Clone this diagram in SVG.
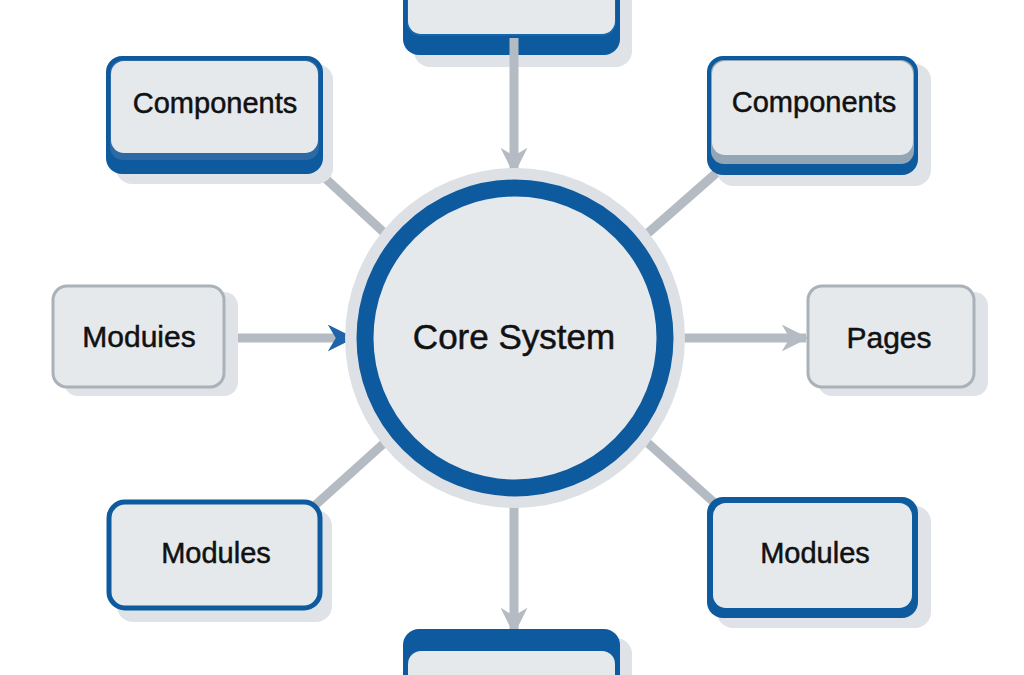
<svg xmlns="http://www.w3.org/2000/svg" width="1024" height="675" viewBox="0 0 1024 675">
<defs>
<style>
.lbl{font-family:"Liberation Sans",Arial,sans-serif;fill:#111;stroke:#111;stroke-width:0.5;text-anchor:middle;dominant-baseline:central}
.shadow{fill:#dfe2e6}
.fill{fill:#e6e9ec}
.blue{fill:#0d5a9e}
.conn{stroke:#b4bbc3;stroke-width:9;fill:none}
</style>
<marker id="ahGrey" viewBox="0 0 10 10" refX="9" refY="5" markerWidth="3" markerHeight="3" orient="auto" markerUnits="strokeWidth">
<path d="M0,0 L10,5 L0,10 L3,5 Z" fill="#b4bbc3"/>
</marker>
<marker id="ahBlue" viewBox="0 0 10 10" refX="9" refY="5" markerWidth="3" markerHeight="3" orient="auto" markerUnits="strokeWidth">
<path d="M0,0 L10,5 L0,10 L3,5 Z" fill="#1f64a8"/>
</marker>
</defs>
<rect width="1024" height="675" fill="#ffffff"/>

<g id="top">
<rect class="shadow" x="414" y="-30" width="218" height="97" rx="16"/>
<rect class="blue" x="403" y="-30" width="217" height="85" rx="16"/>
<rect fill="#1566aa" x="407" y="-30" width="209" height="66" rx="13"/>
<rect class="fill" x="408" y="-30" width="207" height="64" rx="13"/>
</g>

<g id="connectors">
<line class="conn" x1="514" y1="38" x2="514" y2="172" marker-end="url(#ahGrey)"/>
<line class="conn" x1="225" y1="338" x2="352" y2="338" marker-end="url(#ahBlue)"/>
<line class="conn" x1="676" y1="338" x2="806" y2="338" marker-end="url(#ahGrey)"/>
<line class="conn" x1="514" y1="496" x2="514" y2="632" marker-end="url(#ahGrey)"/>
<line class="conn" x1="312" y1="166" x2="392" y2="240"/>
<line class="conn" x1="722" y1="168" x2="640" y2="240"/>
<line class="conn" x1="312" y1="508" x2="392" y2="436"/>
<line class="conn" x1="718" y1="506" x2="640" y2="436"/>
</g>

<g id="core">
<circle cx="515" cy="338" r="170" fill="#dde1e5"/>
<circle cx="515" cy="338" r="150" fill="#e6e9ec" stroke="#0d5a9e" stroke-width="17"/>
<text class="lbl" x="514" y="336" font-size="35">Core System</text>
</g>

<g id="components-left">
<rect class="shadow" x="116" y="64" width="217" height="120" rx="16"/>
<rect class="blue" x="106" y="56" width="217" height="118" rx="16"/>
<rect fill="#2c6aa6" x="110" y="60" width="209" height="100" rx="13"/>
<rect class="fill" x="111" y="61" width="207" height="92" rx="13"/>
<text class="lbl" x="215" y="103" font-size="29">Components</text>
</g>

<g id="components-right">
<rect class="shadow" x="717" y="64" width="214" height="122" rx="16"/>
<rect class="blue" x="707" y="56" width="211" height="119" rx="16"/>
<rect fill="#93a6b6" x="711" y="60" width="203" height="104" rx="13"/>
<rect class="fill" x="712" y="61" width="201" height="94" rx="13"/>
<text class="lbl" x="814" y="102" font-size="29">Components</text>
</g>

<g id="modules-left">
<rect class="shadow" x="64" y="292" width="174" height="104" rx="14"/>
<rect class="fill" x="53" y="286" width="171" height="101" rx="14" stroke="#a9b1b9" stroke-width="3"/>
<text class="lbl" x="139" y="336" font-size="30">Moduies</text>
</g>

<g id="pages">
<rect class="shadow" x="818" y="292" width="170" height="104" rx="14"/>
<rect class="fill" x="808" y="286" width="166" height="101" rx="14" stroke="#a9b1b9" stroke-width="3"/>
<text class="lbl" x="889" y="337" font-size="30">Pages</text>
</g>

<g id="modules-bottom-left">
<rect class="shadow" x="117" y="510" width="215" height="112" rx="16"/>
<rect class="fill" x="109" y="502" width="211" height="106" rx="16" stroke="#0d5a9e" stroke-width="5"/>
<text class="lbl" x="216" y="553" font-size="29">Modules</text>
</g>

<g id="modules-bottom-right">
<rect class="shadow" x="717" y="506" width="214" height="122" rx="16"/>
<rect class="blue" x="707" y="497" width="211" height="121" rx="16"/>
<rect class="fill" x="713" y="503" width="199" height="105" rx="13"/>
<text class="lbl" x="815" y="553" font-size="29">Modules</text>
</g>

<g id="bottom">
<rect class="shadow" x="414" y="638" width="218" height="60" rx="16"/>
<rect class="blue" x="403" y="629" width="217" height="70" rx="16"/>
<rect class="fill" x="408" y="651" width="207" height="50" rx="13"/>
</g>
</svg>
